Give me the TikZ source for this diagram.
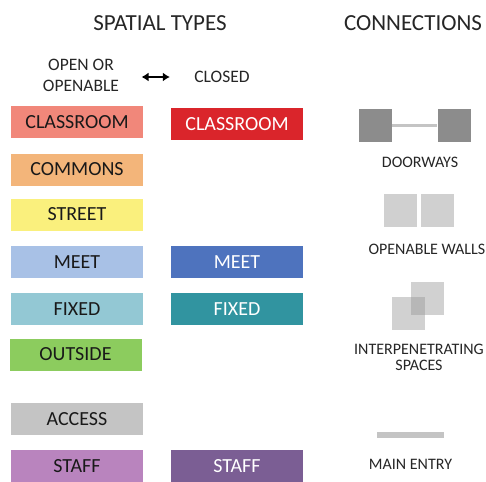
\documentclass[tikz,border=0pt]{standalone}
\usepackage{fontspec}
\setmainfont{Carlito}
\usepackage{xcolor}
\usetikzlibrary{arrows.meta}

\definecolor{clsopen}{RGB}{241,135,122}
\definecolor{clsshut}{RGB}{218,37,43}
\definecolor{commons}{RGB}{243,181,122}
\definecolor{street}{RGB}{250,240,125}
\definecolor{meetopen}{RGB}{168,193,230}
\definecolor{meetshut}{RGB}{78,115,190}
\definecolor{fixopen}{RGB}{147,200,212}
\definecolor{fixshut}{RGB}{49,148,160}
\definecolor{outside}{RGB}{140,204,94}
\definecolor{access}{RGB}{196,196,196}
\definecolor{staffopen}{RGB}{185,132,190}
\definecolor{staffshut}{RGB}{123,94,148}
\definecolor{doorgray}{RGB}{140,140,140}
\definecolor{wallgray}{RGB}{208,208,208}
\definecolor{linegray}{RGB}{196,196,196}

\begin{document}
\begin{tikzpicture}[x=1pt,y=-1pt,
    box/.style={minimum width=132pt,minimum height=32pt,inner sep=0pt,font=\fontsize{20}{24}\selectfont},
    openbox/.style={box,fill=#1,text=black!90},
    shutbox/.style={box,fill=#1,text=white},
    head/.style={font=\fontsize{23}{28}\selectfont,text=black!85},
    lbl/.style={font=\fontsize{16}{19}\selectfont,text=black!85,align=center},
    tile/.style={minimum size=33pt,inner sep=0pt,fill=#1}]
            \useasboundingbox[fill=white] (0,0) rectangle (486,481);

            % headings
            \node[head] (spatial) at (160,23) {SPATIAL TYPES};
            \node[head] (conn) at (413,23) {CONNECTIONS};
            \node[lbl,font=\fontsize{17.5}{21}\selectfont] (openhead) at (81,75) {OPEN OR\\OPENABLE};
            \node[lbl,font=\fontsize{17.5}{21}\selectfont] (closedhead) at (222,77) {CLOSED};
            \draw[{Latex[length=7pt,width=9pt]}-{Latex[length=7pt,width=9pt]},line width=2pt,
                shorten <=19pt,shorten >=21pt] (openhead.east |- closedhead) -- (closedhead.west);

            % spatial types
            \node[openbox=clsopen] (cls) at (77,122) {CLASSROOM};
            \node[shutbox=clsshut] (clsc) at (237,124) {CLASSROOM};
            \node[openbox=commons] (com) at (77,169.5) {COMMONS};
            \node[openbox=street] (str) at (77,214.5) {STREET};
            \node[openbox=meetopen] (meet) at (77,262) {MEET};
            \node[shutbox=meetshut] (meetc) at (237,262) {MEET};
            \node[openbox=fixopen] (fix) at (77,309) {FIXED};
            \node[shutbox=fixshut] (fixc) at (237,309) {FIXED};
            \node[openbox=outside] (out) at (75.5,354.5) {OUTSIDE};
            \node[openbox=access] (acc) at (77,419) {ACCESS};
            \node[openbox=staffopen] (staff) at (77,466) {STAFF};
            \node[shutbox=staffshut] (staffc) at (237,466) {STAFF};

            % connections
            \node[tile=doorgray] (doorL) at (375.5,125.5) {};
            \node[tile=doorgray] (doorR) at (454,125.5) {};
            \draw[line width=2.5pt,linegray] (doorL) -- (doorR);
            \node[lbl] (door) at (420,162) {DOORWAYS};

            \node[tile=wallgray] (wallL) at (400.5,210) {};
            \node[tile=wallgray] (wallR) at (437.5,210) {};
            \node[lbl,anchor=west] (walls) at (365,249) {OPENABLE WALLS};

            \node[tile=black!40,fill opacity=0.45] (backsq) at (427.5,298) {};
            \node[tile=black!40,fill opacity=0.45] (frontsq) at (408.5,313.5) {};
            \node[lbl,font=\fontsize{16}{15.5}\selectfont] (inter) at (419,357.5) {INTERPENETRATING\\SPACES};

            \node[fill=linegray,minimum width=67pt,minimum height=6pt,inner sep=0pt] (entry) at (410.5,435) {};
            \node[lbl] (mainentry) at (410.5,464) {MAIN ENTRY};
        \end{tikzpicture}
\end{document}
